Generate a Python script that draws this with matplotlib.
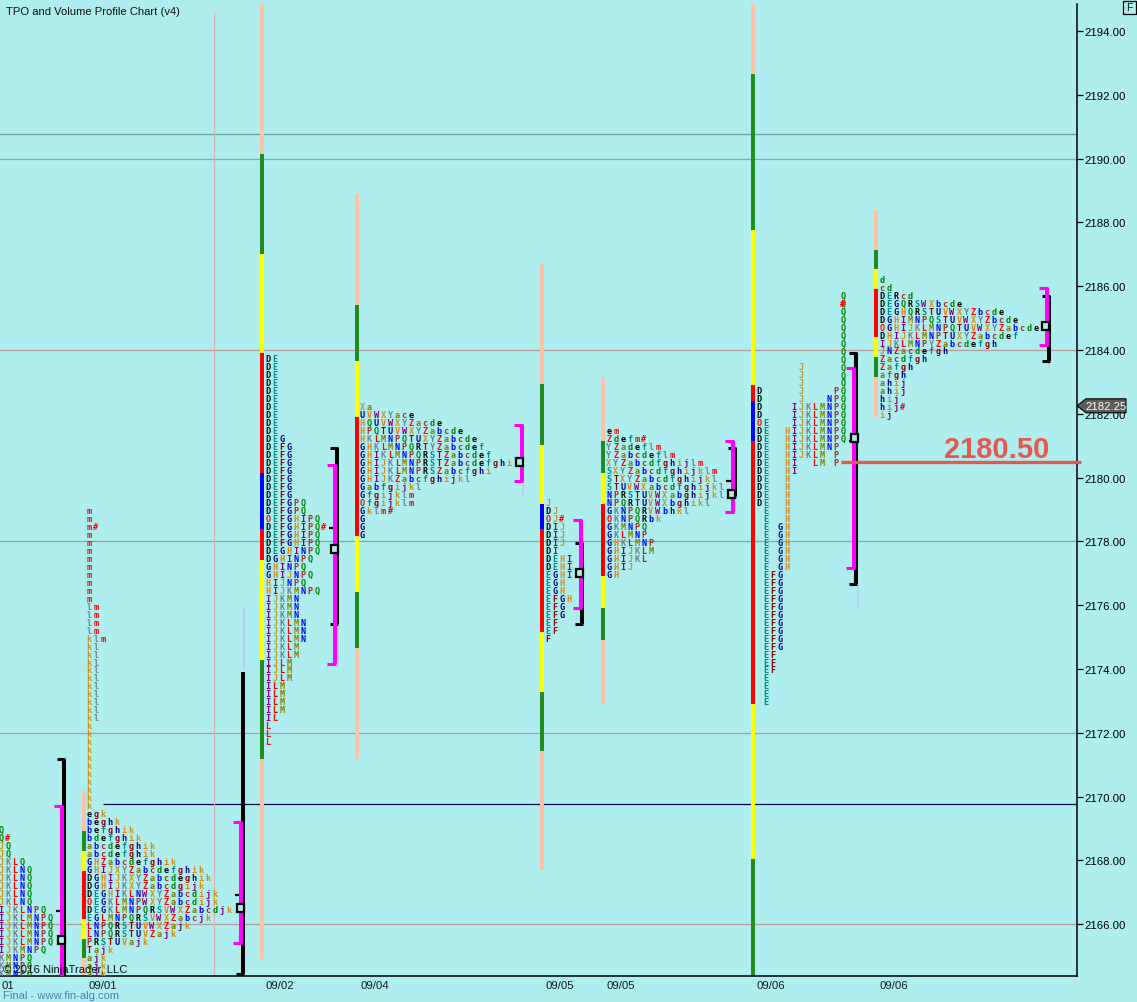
import matplotlib
matplotlib.use("Agg")
import matplotlib.pyplot as plt
from matplotlib.patches import Polygon, Rectangle
import numpy as np

# TPO rows, top price then one string per 0.25 step down
p1_top = 2169.0
p1_rows = ["Q", "Q#", "JQ", "JQ", "JKLQ"] + ["JKLNQ"] * 5 + ["IJKLNPQ"] + ["IJKLMNPQ"] * 4 + \
    ["IJKMNPQ", "KMNPQ", "KMNPQ", "KMNPQ"]

p2_top = 2179.0
p2_rows = ["m", "m", "m#"] + ["m"] * 9 + ["lm"] * 4 + ["klm"] + ["kl"] * 10 + ["k"] * 11 + [
    "egk", "beghk", "befghik", "bdefghik", "abcdefghik", "abcdefghik",
    "GHZabcdefghik", "GHIJXYZabcdefghik", "DGHIJKXYZabcdeghik", "DGHIJKXYZabcdgijk",
    "DEGHIKLNWXYZabcdijk", "OEGKLMNPWXYZabcdijk", "DEGKLMNPQRSVWXZabcdjk",
    "EGLMNPQRSVWXZabcjk", "LNPQRSTUVWXZajk", "LNPQRSTUVZajk", "PRSTUVajk", "Tajk",
    "ajk", "ajk", "ajk"]

p3_top = 2183.75
p3_rows = ["DE"] * 10 + ["DEG"] + ["DEFG"] * 7 + ["DEFGPQ"] * 2 + ["OEFGHIPQ", "DEFGHIPQ#"] + \
    ["DEFGHIPQ"] * 2 + ["DEGHINPQ", "DGHINPQ", "GHINPQ", "GHIJNPQ", "HIJNPQ", "HIJKMNPQ"] + \
    ["IJKMN"] * 3 + ["IJKLMN"] * 3 + ["IJKLM"] * 2 + ["IJLM"] * 3 + ["ILM"] * 4 + ["IL"] + ["L"] * 3

p4_top = 2182.25
p4_rows = ["Xa", "UVWXYace", "HQUVWXYZacde", "HPQTUVWXYZabcde", "HKLMNPQTUXYZabcde",
           "GHKLMNPQRTYZabcdef", "GHIKLMNPQRSTZabcdef", "GHIJKLMNPRSTZabcdefghi",
           "GHIJKLMNPRSZabcfghi", "GHIJKZabcfghijkl", "Gabfgijkl", "Gfgijklm", "Ofgijklm",
           "Gklm#", "G", "G", "G"]

p5_top = 2179.25
p5_rows = ["J", "DJ", "OJ#", "DIJ", "DIJ", "DIJ", "DI", "DEHI", "DEHI", "EGHI", "EGH", "EGH",
           "EFGH", "EFG", "EFG", "EF", "EF", "F"]

p6_top = 2181.5
p6_rows = ["em", "Zdefm#", "YZadeflm", "YZabcdeflm", "XYZabcdfghijlm", "SXYZabcdfghijklm",
           "STXYZabcdfghijkl", "STUVWXabcdfghijkl", "NPRSTUVWXabghijkl", "NPQRTUVWXbghikl",
           "GKNPQRVWbhkl", "OKNPQRbk", "GKMNPQ", "GKLMNP", "GHKLMNP", "GHIJKLM", "GHIJKL",
           "GHIJ", "GH"]

# this one keeps a fixed column per letter, so blanks matter
p7_top = 2185.75
p7_rows = ["            Q"] * 9 + ["      J     Q"] * 3 + [
    "D     J    PQ", "D     J   NPQ", "D    IJKLMNPQ", "D    IJKLMNPQ", "OE   IJKLMNPQ",
    "DE  HIJKLMNPQ", "DE  HIJKLMNPQ", "DE  HIJKLMNP", "DE  HIJKLM P", "DE  HI  LM P", "DE  HI"] + \
    ["DE  H"] * 4 + [" E  H"] * 2 + [" E GH"] * 6 + [" EFG"] * 10 + [" EF"] * 3 + [" E"] * 4
p7_extra = [(2185.5, 12, "#")]

p8_top = 2186.25
p8_rows = ["d", "cd", "DERcd", "DEGQRSWXbcde", "DEGHQRSTUVWXYZbcde", "DGHIMNPQSTUVWXYZbcde",
           "OGHIJKLMNPQTUVWXYZabcde", "DHIJKLMNPTUXYZabcdef", "IJKLMNPYZabcdefgh", "JNZacdefgh",
           "Zacdfgh", "Zafgh", "afgh", "ahij", "ahij", "hij", "hij#", "ij"]

# coloured profile bars: price edges top to bottom, one colour name per segment
bar2_edges = [2170.18, 2168.92, 2168.29, 2167.67, 2166.16, 2165.54, 2164.94, 2164.38]
bar2_cols = ["peach", "green", "yellow", "red", "yellow", "green", "peach"]
bar3_edges = [2194.85, 2190.14, 2187.01, 2183.91, 2180.14, 2178.39, 2177.42, 2174.28, 2171.19, 2164.91]
bar3_cols = ["peach", "green", "yellow", "red", "blue", "red", "yellow", "green", "peach"]
bar4_edges = [2188.89, 2185.41, 2183.66, 2181.90, 2178.17, 2176.41, 2174.66, 2171.19]
bar4_cols = ["peach", "green", "yellow", "red", "yellow", "green", "peach"]
bar5_edges = [2186.70, 2182.93, 2181.02, 2179.17, 2178.39, 2175.16, 2173.28, 2171.43, 2167.70]
bar5_cols = ["peach", "green", "yellow", "blue", "red", "yellow", "green", "peach"]
bar6_edges = [2183.15, 2181.15, 2180.14, 2179.17, 2176.92, 2175.91, 2174.91, 2172.90]
bar6_cols = ["peach", "green", "yellow", "red", "yellow", "green", "peach"]
bar7_edges = [2194.85, 2192.65, 2187.76, 2182.90, 2182.40, 2181.15, 2172.90, 2168.04, 2164.38]
bar7_cols = ["peach", "green", "yellow", "red", "blue", "red", "yellow", "green"]
bar8_edges = [2188.39, 2187.13, 2186.54, 2185.91, 2184.41, 2183.78, 2183.15, 2181.90]
bar8_cols = ["peach", "green", "yellow", "red", "yellow", "green", "peach"]

# brackets: (top, bottom) prices, POC price, small tick price
black_ranges = [(2171.18, 2164.38), (2173.91, 2164.44), (2180.93, 2175.41), None,
                (2177.95, 2175.41), (2180.93, 2179.42), (2183.91, 2176.67), (2185.69, 2183.66)]
magenta_ranges = [(2169.71, 2164.38), (2169.20, 2165.41), (2180.40, 2174.16), (2181.65, 2179.89),
                  (2178.67, 2175.91), (2181.15, 2178.92), (2183.44, 2177.17), (2185.94, 2184.16)]
poc_prices = [2165.5, 2166.5, 2177.75, 2180.5, 2177.0, 2179.5, 2181.25, 2184.75]
tick_prices = [2166.41, 2166.92, 2178.42, None, None, 2179.89, 2181.15, None]
faint_ranges = [None, (2175.88, 2174.0), (2175.41, 2174.06), (2179.86, 2179.42),
                (2176.1, 2175.9), (2180.2, 2179.9), (2176.67, 2175.88), (2183.66, 2183.40)]

grid_prices = [2190.77, 2190.0, 2184.0, 2178.0, 2172.0, 2166.0]
navy_price = 2169.77
pivot_price = 2180.50
last_price = 2182.25
y_ticks = np.arange(2166, 2196, 2)
date_labels = ["01", "09/01", "09/02", "09/04", "09/05", "09/05", "09/06", "09/06"]

bg = "#AFEEEE"
seg_colors = {"peach": "#FFC2A8", "green": "#228B22", "yellow": "#FFFF00", "red": "#FF0000", "blue": "#0000FF"}
letter_groups = {
    "DRe": "#000000", "ESf": "#008B8B", "FTg": "#8B0000", "GUh": "#00008B", "HVi": "#E8820C",
    "IWj": "#800080", "JXk": "#C8961A", "KYl": "#708090", "LZm#O": "#FF0000", "Ma": "#808000",
    "Nb": "#0000FF", "Pc": "#A52A2A", "Qd": "#008000",
}
letter_color = {ch: col for chars, col in letter_groups.items() for ch in chars}
MONO = "DejaVu Sans Mono"
SANS = "Liberation Sans"
W, H = 1137, 1003
STEP = 7
TPO_SIZE = 6.1

fig = plt.figure(figsize=(W / 100, H / 100), dpi=100, facecolor=bg)
ax = fig.add_axes([0, (H - 977) / H, 1077 / W, 972 / H], facecolor=bg)
ax.set_xlim(0, 1077)
ax.set_ylim(2164.376, 2194.846)
px = 1 / 31.9  # one pixel in price units


def draw_profile(x0, top, rows):
    for i, row in enumerate(rows):
        for j, ch in enumerate(row):
            if ch != " ":
                ax.text(x0 + j * STEP, top - i * 0.25, ch, color=letter_color[ch], family=MONO,
                        fontweight="bold", fontsize=TPO_SIZE, ha="center", va="center_baseline",
                        clip_on=True)


def draw_bar(x0, edges, cols):
    for k, name in enumerate(cols):
        ax.bar(x0, edges[k] - edges[k + 1], bottom=edges[k + 1], width=4.2, color=seg_colors[name],
               linewidth=0, align="edge", zorder=2)


for p in grid_prices:
    col = "#B49A9C" if p in (2184.0, 2172.0, 2166.0) else "#92A2A4"
    if p == 2190.77:
        col = "#6F9C9C"
    ax.axhline(p, color=col, lw=0.9, zorder=1)
ax.hlines(navy_price, 103, 1077, color="#00004A", lw=0.9, zorder=1)
ax.vlines(214, 2164.376, 2194.6, color="#D6B4B4", lw=0.9, zorder=1)

draw_bar(82, bar2_edges, bar2_cols)
draw_bar(260, bar3_edges, bar3_cols)
draw_bar(355, bar4_edges, bar4_cols)
draw_bar(540, bar5_edges, bar5_cols)
draw_bar(601, bar6_edges, bar6_cols)
draw_bar(751, bar7_edges, bar7_cols)
draw_bar(874, bar8_edges, bar8_cols)

draw_profile(1, p1_top, p1_rows)
draw_profile(89, p2_top, p2_rows)
draw_profile(268, p3_top, p3_rows)
draw_profile(362.3, p4_top, p4_rows)
draw_profile(547.7, p5_top, p5_rows)
draw_profile(608.7, p6_top, p6_rows)
draw_profile(758.7, p7_top, p7_rows)
draw_profile(882, p8_top, p8_rows)
for price, col, ch in p7_extra:
    ax.text(758.7 + col * STEP, price, ch, color=letter_color[ch], family=MONO, fontweight="bold",
            fontsize=TPO_SIZE, ha="center", va="center_baseline")

# bracket x positions per profile (centre of the vertical stroke, pixels)
black_x = [64, 243, 337, 0, 582, 735, 856, 1049]
magenta_x = [61.5, 241, 335, 522, 580.5, 732.5, 854, 1047]
poc_x = [58, 237, 331, 516, 576, 728, 851, 1042]

for i in range(8):
    b = black_ranges[i]
    if b is not None:
        ax.vlines(black_x[i], b[1], b[0], color="black", lw=2.9, zorder=3)
        if i != 1:
            ax.hlines(b[0], black_x[i] - 7, black_x[i] + 1, color="black", lw=2.2, zorder=3)
        if i != 0:
            ax.hlines(b[1], black_x[i] - 7, black_x[i] + 1, color="black", lw=2.2, zorder=3)
    m = magenta_ranges[i]
    ax.vlines(magenta_x[i], m[1], m[0], color="#FF00FF", lw=2.9, zorder=4)
    ax.hlines(m[0], magenta_x[i] - 8, magenta_x[i] + 1, color="#FF00FF", lw=2.2, zorder=4)
    if i > 0:
        ax.hlines(m[1], magenta_x[i] - 8, magenta_x[i] + 1, color="#FF00FF", lw=2.2, zorder=4)
    if tick_prices[i] is not None:
        ax.hlines(tick_prices[i], poc_x[i] - 2, poc_x[i] + 4, color="black", lw=1.6, zorder=3)
    ax.add_patch(Rectangle((poc_x[i], poc_prices[i] - 4 * px), 6.5, 8 * px, facecolor=bg,
                           edgecolor="black", lw=1.6, zorder=5))
    f = faint_ranges[i]
    if f is not None:
        ax.vlines(poc_x[i] + 7, f[1], f[0], color="#BBCBF2", lw=1.2, zorder=2)

ax.hlines(pivot_price, 841, 1081, color="#E8574F", lw=2.4, zorder=6, clip_on=False)
ax.text(997, pivot_price + 12.5 * px, "2180.50", color="#E8574F", family=SANS, fontweight="bold",
        fontsize=21, ha="center", va="center", zorder=6)

# last price flag on the axis
flag = [(1077, last_price), (1086, last_price + 7 * px), (1126, last_price + 7 * px),
        (1126, last_price - 7 * px), (1086, last_price - 7 * px)]
ax.add_patch(Polygon(flag, closed=True, facecolor="#5C5C5C", edgecolor="black", lw=0.8,
                     clip_on=False, zorder=7))
ax.text(1106, last_price, "2182.25", color="white", family=SANS, fontsize=8.2, ha="center",
        va="center", zorder=8)

ax.spines["top"].set_visible(False)
ax.spines["left"].set_visible(False)
ax.spines["right"].set_linewidth(1.1)
ax.spines["bottom"].set_linewidth(1.1)
ax.yaxis.tick_right()
ax.set_yticks(y_ticks)
ax.set_yticklabels([f"{v:.2f}" for v in y_ticks], family=SANS, fontsize=8.2)
ax.tick_params(axis="y", length=4.5, width=0.9, pad=0.8)
ax.set_xticks([1, 88.5, 265.5, 360.5, 545.5, 606.5, 756.5, 879.5])
ax.set_xticklabels(date_labels, family=SANS, fontsize=8.2, ha="left", color="#101828")
ax.tick_params(axis="x", length=0, pad=3)

fig.text(6 / W, 1 - 12 / H, "TPO and Volume Profile Chart (v4)", family=SANS, fontsize=8.1,
         va="center", color="#101010")
fig.text(3 / W, 1 - 970 / H, "© 2016 NinjaTrader, LLC", family=SANS, fontsize=8.1, va="center",
         color="#101010", zorder=9)
fig.text(3 / W, 1 - 996 / H, "Final - www.fin-alg.com", family=SANS, fontsize=8.1, va="center",
         color="#4682B4")
fig.add_artist(Rectangle((1123 / W, 1 - 14.5 / H), 13 / W, 12.5 / H, transform=fig.transFigure,
                         facecolor="none", edgecolor="black", lw=0.9))
fig.text(1129.5 / W, 1 - 8.2 / H, "F", family=SANS, fontsize=7.5, ha="center", va="center",
         color="#101010")

fig.savefig("out.png", dpi=100, facecolor=bg)
